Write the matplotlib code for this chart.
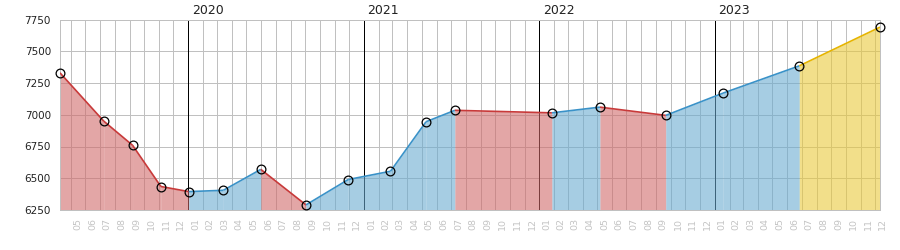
import matplotlib
matplotlib.use("Agg")
import matplotlib.pyplot as plt
import matplotlib.dates as mdates
import matplotlib.transforms as mtransforms
import numpy as np
import datetime as dt

# ---- data ----
dates = ["2019-04-09", "2019-07-09", "2019-09-07", "2019-11-05", "2020-01-02",
         "2020-03-14", "2020-05-31", "2020-09-02", "2020-11-29", "2021-02-25",
         "2021-05-10", "2021-07-09", "2022-01-27", "2022-05-07", "2022-09-21",
         "2023-01-18", "2023-06-26", "2023-12-11"]
values = [7330, 6950, 6760, 6435, 6395,
          6405, 6570, 6290, 6490, 6555,
          6945, 7035, 7015, 7060, 6995,
          7170, 7385, 7690]
y_ticks = [6250, 6500, 6750, 7000, 7250, 7500, 7750]
years = [2020, 2021, 2022, 2023]
month_labels = ["%02d" % m for m in range(1, 13)]

# ---- styles ----
up_line, up_fill = "#3a92c8", "#68aad0"
down_line, down_fill = "#c83a3a", "#d06868"
last_line, last_fill = "#e6b400", "#e9c939"
fill_alpha = 0.59
grid_col = "#c0c0c0"
px = 0.72  # one pixel in points

x = mdates.date2num([dt.datetime.strptime(d, "%Y-%m-%d") for d in dates])
y = np.array(values, dtype=float)

fig = plt.figure(figsize=(9, 2.5), dpi=100)
ax = fig.add_axes([60/900, 40/250, 820/900, 190.5/250])
ax.set_xlim(x[0], x[-1])
ax.set_ylim(y_ticks[0], y_ticks[-1])
ax.set_axisbelow(True)

# grid
ax.set_yticks(y_ticks)
ax.set_yticklabels([str(t) for t in y_ticks], fontsize=7.5, color="#222222")
ax.tick_params(axis="y", length=0, pad=6.5)
for t in y_ticks[1:-1]:
    ax.axhline(t, color=grid_col, lw=px, zorder=0.5)

month_starts = []
d = dt.date(2019, 4, 1)
while d <= dt.date(2024, 1, 1):
    month_starts.append(d)
    d = dt.date(d.year + (d.month // 12), d.month % 12 + 1, 1)
ms_num = mdates.date2num(month_starts)
for d, xn in zip(month_starts, ms_num):
    if x[0] < xn < x[-1]:
        if d.month == 1:
            ax.axvline(xn, color="black", lw=px, zorder=0.6)
        else:
            ax.axvline(xn, color=grid_col, lw=px, zorder=0.5)

ax.set_xticks([])
trans_lab = mtransforms.blended_transform_factory(ax.transData, ax.transAxes)
off_down = mtransforms.offset_copy(trans_lab, fig=fig, x=0, y=-7.5, units="dots")
for i in range(len(month_starts) - 1):
    d0 = month_starts[i]
    if d0 < dt.date(2019, 5, 1):
        continue
    mid = (ms_num[i] + ms_num[i + 1]) / 2
    ax.text(mid, 0, month_labels[d0.month - 1], transform=off_down, rotation=90,
            ha="center", va="top", fontsize=6.8, color="#c4c4c4", clip_on=False)

off_up = mtransforms.offset_copy(trans_lab, fig=fig, x=3.5, y=3, units="dots")
for yr in years:
    xn = mdates.date2num(dt.datetime(yr, 1, 1))
    ax.text(xn, 1, str(yr), transform=off_up, ha="left", va="bottom",
            fontsize=9, color="#222222", clip_on=False)

# fills and lines per segment
n = len(x)
for i in range(n - 1):
    if i == n - 2:
        lc, fc = last_line, last_fill
    elif y[i + 1] >= y[i]:
        lc, fc = up_line, up_fill
    else:
        lc, fc = down_line, down_fill
    ax.fill_between(x[i:i + 2], y[i:i + 2], y_ticks[0], color=fc, alpha=fill_alpha,
                    lw=0, zorder=1)
    ax.plot(x[i:i + 2], y[i:i + 2], color=lc, lw=1.2, zorder=3,
            solid_capstyle="butt")

ax.plot(x, y, linestyle="none", marker="o", markersize=6.3, markerfacecolor="none",
        markeredgecolor="black", markeredgewidth=0.9, zorder=4, clip_on=False)

for s in ax.spines.values():
    s.set_color(grid_col)
    s.set_linewidth(px)

fig.savefig("out.png", dpi=100)
